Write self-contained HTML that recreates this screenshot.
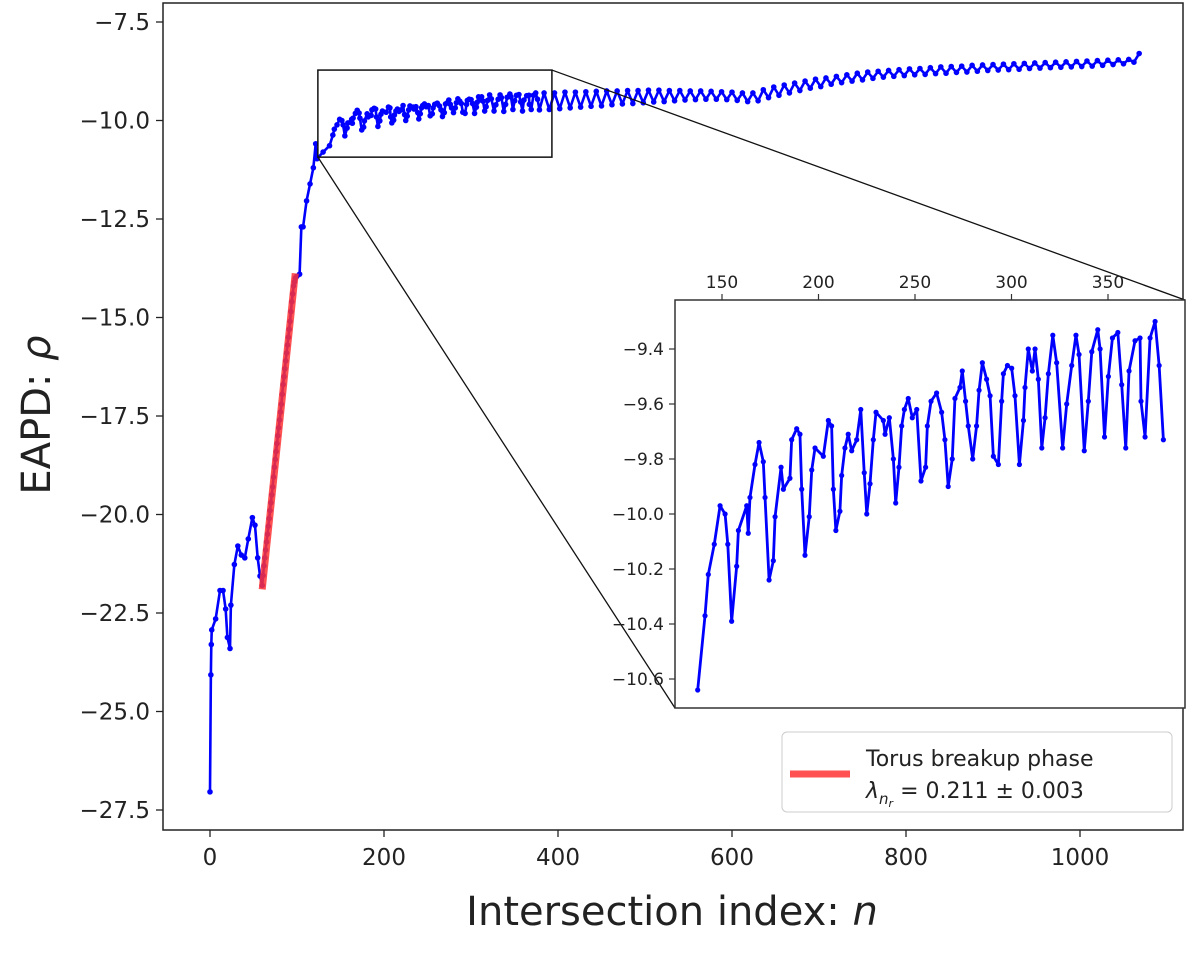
<!DOCTYPE html>
<html><head><meta charset="utf-8"><style>
body{margin:0;background:#fff;}
svg text{font-family:"DejaVu Sans","Liberation Sans",sans-serif;fill:#222;}
</style></head><body>
<svg id="chart" width="1200" height="950" viewBox="0 0 1200 950" xmlns="http://www.w3.org/2000/svg">
<rect x="163" y="3" width="1020" height="827" fill="none" stroke="#222" stroke-width="1.5"/>
<g id="main-ticks"></g>
<g id="main-series"></g>
<g id="zoom-box"></g>
<g id="inset"></g>
<text x="672" y="925" font-size="40" text-anchor="middle">Intersection index: <tspan font-style="italic">n</tspan></text>
<text transform="translate(50,415) rotate(-90)" font-size="40" text-anchor="middle">EAPD: <tspan font-style="italic">ρ</tspan></text>
<g>
<rect x="782" y="732" width="390" height="80" rx="5" fill="#fff" stroke="#ccc"/>
<line x1="790" y1="774" x2="850" y2="774" stroke="#f33" stroke-opacity="0.85" stroke-width="7"/>
<text x="866" y="766" font-size="22">Torus breakup phase</text>
<text x="866" y="798" font-size="22"><tspan font-style="italic">λ</tspan><tspan font-size="15" dy="6" font-style="italic">n</tspan><tspan font-size="11" dy="3" font-style="italic">r</tspan><tspan dy="-9"> = 0.211 ± 0.003</tspan></text>
</g>
</svg>
<script>
const NS="http://www.w3.org/2000/svg";
// ---- data ----
const earlyN=[0,1,1.5,2,6.5,11.5,15,18,20,23,24,28,32,36,40,44,48.7,51.7,54.8,57.5];
const earlyV=[-27.04,-24.07,-23.3,-22.93,-22.65,-21.93,-21.93,-22.4,-23.12,-23.4,-22.3,-21.27,-20.8,-21.03,-21.1,-20.62,-20.08,-20.27,-21.1,-21.56];
const rampN=[60,61,62,63,64,65,66,67,68,69,70,71,72,73,74,75,76,77,78,79,80,81,82,83,84,85,86,87,88,89,90,91,92,93,94,95,96,97,98,100,103,105,107,111,115,118.8,121.5,123,130];
const rampV=[-21.8,-21.55,-21.3,-21.1,-20.9,-20.7,-20.5,-20.3,-20.1,-19.9,-19.7,-19.5,-19.3,-19.05,-18.8,-18.6,-18.4,-18.2,-18.0,-17.8,-17.6,-17.4,-17.2,-16.95,-16.7,-16.5,-16.3,-16.1,-15.9,-15.7,-15.5,-15.3,-15.1,-14.85,-14.6,-14.4,-14.2,-14.1,-14.0,-13.95,-13.9,-12.7,-12.7,-12.04,-11.61,-11.2,-10.59,-10.97,-10.8];
const insetN=[137.4,141.2,142.9,146,149,151.6,153,155,157.6,158.5,162.8,163.6,164.5,167.1,169.2,171.4,172.3,174.4,176.6,177.5,180.6,181.8,185.2,186.1,188.7,190.4,191.3,193,195.2,196.5,198.2,202.5,205.1,206.8,207.7,209,211.1,212,213.7,215.4,217.2,219.8,221.9,223.7,225,226.7,228.4,229.8,233.6,234.5,236.7,238.8,240,241.7,243.1,244.5,246.5,248.6,250.9,253.1,255.5,256.4,258.3,261.2,263.8,265.5,267.2,269.3,270.7,273.3,274.5,276.2,277.6,279.9,281.9,283.2,284.9,287.1,288.9,290.6,293.2,294.9,295.8,297.9,300.1,301.8,304.1,306.2,307,308.7,310.8,312.2,313.9,315.7,317.4,319.1,321.4,323.4,326.5,328.6,331.2,333.4,335,337.7,339.8,341.6,344.7,345.9,348.2,350.2,352.3,355.1,357.1,359.2,360.9,364,366.6,367.1,369.2,371.8,374.4,376.5,378.7];
const insetV=[-10.64,-10.37,-10.22,-10.11,-9.97,-10.0,-10.11,-10.39,-10.19,-10.06,-9.97,-10.07,-9.94,-9.82,-9.74,-9.81,-9.94,-10.24,-10.17,-10.01,-9.83,-9.91,-9.87,-9.73,-9.69,-9.71,-9.91,-10.15,-10.01,-9.84,-9.76,-9.79,-9.66,-9.68,-9.91,-10.06,-9.99,-9.86,-9.76,-9.71,-9.77,-9.73,-9.62,-9.85,-10.0,-9.89,-9.73,-9.63,-9.66,-9.71,-9.65,-9.80,-9.96,-9.83,-9.68,-9.62,-9.58,-9.65,-9.62,-9.88,-9.83,-9.68,-9.59,-9.56,-9.63,-9.73,-9.90,-9.80,-9.58,-9.54,-9.48,-9.59,-9.68,-9.80,-9.68,-9.55,-9.45,-9.51,-9.57,-9.79,-9.82,-9.59,-9.49,-9.46,-9.47,-9.57,-9.82,-9.66,-9.54,-9.40,-9.48,-9.40,-9.51,-9.76,-9.65,-9.49,-9.35,-9.45,-9.76,-9.60,-9.46,-9.35,-9.42,-9.77,-9.59,-9.41,-9.33,-9.40,-9.72,-9.50,-9.36,-9.34,-9.53,-9.76,-9.48,-9.37,-9.36,-9.59,-9.72,-9.36,-9.30,-9.46,-9.73];
const tailStart=384, tailStep=6;
const tailV=[-9.30,-9.72,-9.30,-9.70,-9.28,-9.68,-9.28,-9.66,-9.27,-9.64,-9.26,-9.63,-9.25,-9.60,-9.25,-9.58,-9.24,-9.57,-9.24,-9.55,-9.23,-9.53,-9.23,-9.52,-9.24,-9.50,-9.24,-9.48,-9.25,-9.47,-9.25,-9.46,-9.26,-9.46,-9.27,-9.47,-9.28,-9.49,-9.30,-9.52,-9.30,-9.50,-9.22,-9.42,-9.15,-9.36,-9.10,-9.30,-9.05,-9.24,-9.00,-9.18,-8.95,-9.14,-8.92,-9.08,-8.88,-9.04,-8.84,-9.00,-8.80,-8.97,-8.77,-8.93,-8.75,-8.90,-8.73,-8.88,-8.71,-8.86,-8.69,-8.84,-8.68,-8.83,-8.66,-8.81,-8.64,-8.80,-8.63,-8.78,-8.62,-8.77,-8.60,-8.75,-8.59,-8.73,-8.58,-8.72,-8.57,-8.71,-8.56,-8.70,-8.55,-8.68,-8.54,-8.67,-8.53,-8.66,-8.52,-8.65,-8.51,-8.64,-8.50,-8.63,-8.49,-8.62,-8.48,-8.60,-8.47,-8.58,-8.46,-8.56,-8.45,-8.52,-8.30];
const fitN=[60,98];
const fitV=[-21.9,-13.88];
const xTicks=[0,200,400,600,800,1000];
const yTicks=[-7.5,-10.0,-12.5,-15.0,-17.5,-20.0,-22.5,-25.0,-27.5];
const insetXTicks=[150,200,250,300,350];
const insetYTicks=[-9.4,-9.6,-9.8,-10.0,-10.2,-10.4,-10.6];
const zoomN=[124,393];
const zoomV=[-8.72,-10.93];

// ---- scales ----
const X=n=>210+n*0.87;
const Y=v=>22+(-7.5-v)*39.4;
const IX=n=>722+(n-150)*1.93;
const IY=v=>349+(-9.4-v)*275;

function mk(tag,attrs,parent){const e=document.createElementNS(NS,tag);for(const k in attrs)e.setAttribute(k,attrs[k]);parent.appendChild(e);return e;}

const allN=[],allV=[];
earlyN.forEach((n,i)=>{allN.push(n);allV.push(earlyV[i]);});
rampN.forEach((n,i)=>{allN.push(n);allV.push(rampV[i]);});
insetN.forEach((n,i)=>{allN.push(n);allV.push(insetV[i]);});
tailV.forEach((v,i)=>{allN.push(tailStart+i*tailStep);allV.push(v);});

// ticks
const tg=document.getElementById('main-ticks');
xTicks.forEach(t=>{
 const l=mk('line',{x1:X(t),x2:X(t),y1:830,y2:837,stroke:'#222','stroke-width':1.3},tg);
 
 
 const tx=mk('text',{x:X(t),y:865,'font-size':23,'text-anchor':'middle'},tg);tx.textContent=t;
 
 
});
yTicks.forEach(t=>{
 const l=mk('line',{x1:156,x2:163,y1:Y(t),y2:Y(t),stroke:'#222','stroke-width':1.3},tg);
 
 
 const tx=mk('text',{x:150,y:Y(t)+8,'font-size':23,'text-anchor':'end'},tg);tx.textContent=(t<0?'−':'')+Math.abs(t).toFixed(1);
 
 
});

// main series
const sg=document.getElementById('main-series');
const mp=mk('polyline',{points:allN.map((n,i)=>X(n)+','+Y(allV[i])).join(' '),fill:'none',stroke:'#0000ff','stroke-width':2.6,'stroke-linejoin':'round'},sg);


allN.forEach((n,i)=>{
 const c=mk('circle',{cx:X(n),cy:Y(allV[i]),r:2.8,fill:'#0000ff'},sg);
 
 
});
const fl=mk('line',{x1:X(fitN[0]),y1:Y(fitV[0]),x2:X(fitN[1]),y2:Y(fitV[1]),stroke:'#f33','stroke-opacity':0.85,'stroke-width':7},sg);



// zoom box & connectors
const zg=document.getElementById('zoom-box');
const zx1=X(zoomN[0]),zx2=X(zoomN[1]),zy1=Y(zoomV[0]),zy2=Y(zoomV[1]);
const zr=mk('rect',{x:zx1,y:zy1,width:zx2-zx1,height:zy2-zy1,fill:'none',stroke:'#111','stroke-width':1.5},zg);


const c1=mk('line',{x1:zx2,y1:zy1,x2:1185,y2:300,stroke:'#111','stroke-width':1.3},zg);


const c2=mk('line',{x1:zx1,y1:zy2,x2:675,y2:708,stroke:'#111','stroke-width':1.3},zg);



// inset
const ig=document.getElementById('inset');


const ib=mk('rect',{x:675,y:300,width:510,height:408,fill:'#fff',stroke:'#333','stroke-width':1.5},ig);


insetXTicks.forEach(t=>{
 const l=mk('line',{x1:IX(t),x2:IX(t),y1:294,y2:300,stroke:'#333','stroke-width':1.2},ig);
 
 
 const tx=mk('text',{x:IX(t),y:288,'font-size':17,'text-anchor':'middle'},ig);tx.textContent=t;
 
 
});
insetYTicks.forEach(t=>{
 const l=mk('line',{x1:669,x2:675,y1:IY(t),y2:IY(t),stroke:'#333','stroke-width':1.2},ig);
 
 
 const tx=mk('text',{x:664,y:IY(t)+6,'font-size':17,'text-anchor':'end'},ig);tx.textContent='−'+Math.abs(t).toFixed(1);
 
 
});
const ip=mk('polyline',{points:insetN.map((n,i)=>IX(n)+','+IY(insetV[i])).join(' '),fill:'none',stroke:'#0000ff','stroke-width':2.8,'stroke-linejoin':'round'},ig);


insetN.forEach((n,i)=>{
 const c=mk('circle',{cx:IX(n),cy:IY(insetV[i]),r:2.6,fill:'#0000ff'},ig);
 
 
});
</script>
</body></html>
